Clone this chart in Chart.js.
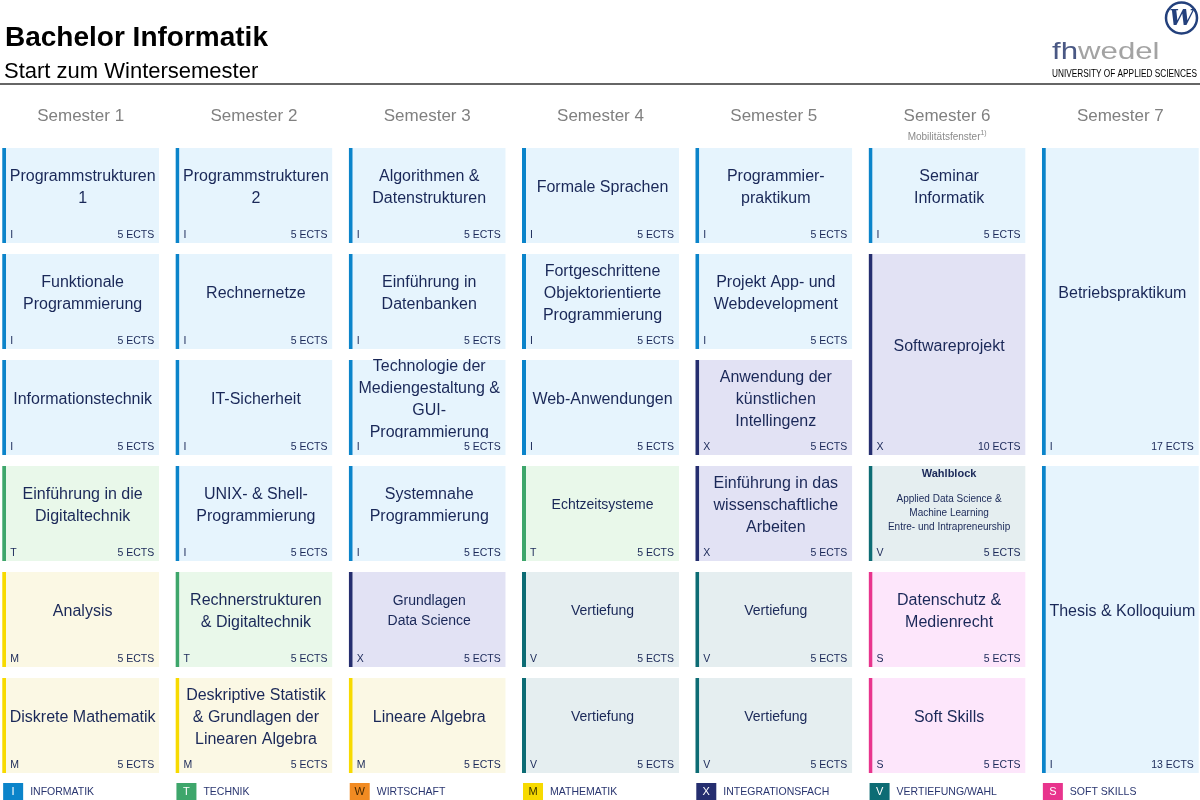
<!DOCTYPE html>
<html>
<head>
<meta charset="utf-8">
<script src="https://cdn.jsdelivr.net/npm/chart.js@4.4.1/dist/chart.umd.min.js"></script>
<style>
html,body{margin:0;padding:0;background:#fff;overflow:hidden;width:1200px;height:800px;}
#wrap{position:absolute;left:-6px;top:0;width:1213px;height:800px;}
</style>
</head>
<body>
<div id="wrap"><canvas id="c"></canvas></div>
<script>
// ---------- DATA ----------
const semesters = ['Semester 1','Semester 2','Semester 3','Semester 4','Semester 5','Semester 6','Semester 7'];
const semesterNotes = ['','','','','','Mobilitätsfenster',''];
const semesterNoteMarks = ['','','','','','1)',''];

const moduleTitles = [
  'Programmstrukturen\n1','Funktionale\nProgrammierung','Informationstechnik','Einführung in die\nDigitaltechnik','Analysis','Diskrete Mathematik',
  'Programmstrukturen\n2','Rechnernetze','IT-Sicherheit','UNIX- & Shell-\nProgrammierung','Rechnerstrukturen\n& Digitaltechnik','Deskriptive Statistik\n& Grundlagen der\nLinearen Algebra',
  'Algorithmen &\nDatenstrukturen','Einführung in\nDatenbanken','Technologie der\nMediengestaltung &\nGUI-\nProgrammierung','Systemnahe\nProgrammierung','Grundlagen\nData Science','Lineare Algebra',
  'Formale Sprachen','Fortgeschrittene\nObjektorientierte\nProgrammierung','Web-Anwendungen','Echtzeitsysteme','Vertiefung','Vertiefung',
  'Programmier-\npraktikum','Projekt App- und\nWebdevelopment','Anwendung der\nkünstlichen\nIntellingenz','Einführung in das\nwissenschaftliche\nArbeiten','Vertiefung','Vertiefung',
  'Seminar\nInformatik','Softwareprojekt','Wahlblock','Datenschutz &\nMedienrecht','Soft Skills',
  'Betriebspraktikum','Thesis & Kolloquium'
];
const moduleSemester = [
  0,0,0,0,0,0,
  1,1,1,1,1,1,
  2,2,2,2,2,2,
  3,3,3,3,3,3,
  4,4,4,4,4,4,
  5,5,5,5,5,
  6,6
];
const moduleRow = [
  0,1,2,3,4,5,
  0,1,2,3,4,5,
  0,1,2,3,4,5,
  0,1,2,3,4,5,
  0,1,2,3,4,5,
  0,1,3,4,5,
  0,3
];
const moduleRowSpan = [
  1,1,1,1,1,1,
  1,1,1,1,1,1,
  1,1,1,1,1,1,
  1,1,1,1,1,1,
  1,1,1,1,1,1,
  1,2,1,1,1,
  3,3
];
const moduleCategory = [
  'I','I','I','T','M','M',
  'I','I','I','I','T','M',
  'I','I','I','I','X','M',
  'I','I','I','T','V','V',
  'I','I','X','X','V','V',
  'I','X','V','S','S',
  'I','I'
];
const moduleEcts = [
  5,5,5,5,5,5,
  5,5,5,5,5,5,
  5,5,5,5,5,5,
  5,5,5,5,5,5,
  5,5,5,5,5,5,
  5,10,5,5,5,
  17,13
];
const wahlblockOptions = ['Applied Data Science &','Machine Learning','Entre- und Intrapreneurship'];

const categoryCodes = ['I','T','W','M','X','V','S'];
const categoryNames = ['INFORMATIK','TECHNIK','WIRTSCHAFT','MATHEMATIK','INTEGRATIONSFACH','VERTIEFUNG/WAHL','SOFT SKILLS'];

const chartTitle = 'Bachelor Informatik';
const chartSubtitle = 'Start zum Wintersemester';
const logoParts = ['fh','wedel'];
const logoTagline = 'UNIVERSITY OF APPLIED SCIENCES';

// ---------- STYLE ----------
const FONT = '"Liberation Sans", Arial, sans-serif';
const TEXT = '#1a2858';
const PAGE_SHIFT = 6; // canvas is shifted 6px left of the page
const strongColor = {I:'#0b84ca',T:'#3ea66b',W:'#f28b22',M:'#f7da00',X:'#252e6f',V:'#0d6c74',S:'#e8348d'};
const lightColor  = {I:'#e6f4fd',T:'#e9f8ea',W:'#fdf0e3',M:'#fbf8e4',X:'#e2e2f4',V:'#e5eef0',S:'#fde6fb'};
const legendTextColor = {I:'#ffffff',T:'#ffffff',W:'#4a2a00',M:'#3a3300',X:'#ffffff',V:'#ffffff',S:'#ffffff'};
const smallTitles = ['Echtzeitsysteme','Grundlagen\nData Science','Vertiefung'];
const ROW_GAP = 11/106;

// ---------- PLUGINS ----------
const cellText = {
  id:'cellText',
  afterDatasetsDraw(chart){
    const ctx = chart.ctx;
    const meta = chart.getDatasetMeta(0);
    meta.data.forEach((el,i)=>{
      const p = el.getProps(['x','y','base','width'], true);
      const left = p.x - p.width/2, right = p.x + p.width/2;
      const top = Math.min(p.y,p.base), bottom = Math.max(p.y,p.base);
      const cx = (left + 4 + right)/2;
      const title = moduleTitles[i];
      ctx.save();
      ctx.fillStyle = TEXT;
      ctx.textAlign = 'center';
      ctx.textBaseline = 'middle';
      if (title === 'Wahlblock') {
        ctx.font = 'bold 11px ' + FONT;
        ctx.fillText(title, cx, top + 8);
        ctx.font = '10px ' + FONT;
        wahlblockOptions.forEach((t,k)=> ctx.fillText(t, cx, top + 33 + k*14));
      } else {
        const small = smallTitles.includes(title);
        const fs = small ? 14 : 16, lh = small ? 20 : 22;
        const lines = title.split('\n');
        const cy = (top + bottom)/2 - 8;
        const y0 = cy - (lines.length - 1) * lh / 2;
        ctx.save();
        ctx.beginPath();
        ctx.rect(left, 0, right - left, bottom - 17);
        ctx.clip();
        ctx.font = fs + 'px ' + FONT;
        lines.forEach((t,k)=> ctx.fillText(t, cx, y0 + k*lh));
        ctx.restore();
      }
      ctx.font = '10.5px ' + FONT;
      ctx.textAlign = 'left';
      ctx.fillText(moduleCategory[i], left + 8, bottom - 8);
      ctx.textAlign = 'right';
      ctx.fillText(moduleEcts[i] + ' ECTS', right - 5, bottom - 8);
      ctx.restore();
    });
  }
};

const decorations = {
  id:'decorations',
  afterDraw(chart){
    const ctx = chart.ctx;
    const xs = chart.scales.x;
    const meta = chart.getDatasetMeta(0);
    const barW = meta.data[0].width;
    ctx.save();
    ctx.save();
    ctx.translate(PAGE_SHIFT, 0);
    // title & subtitle
    ctx.fillStyle = '#000';
    ctx.textAlign = 'left';
    ctx.textBaseline = 'alphabetic';
    ctx.font = 'bold 28px ' + FONT;
    ctx.fillText(chartTitle, 5, 46);
    ctx.font = '22px ' + FONT;
    ctx.fillText(chartSubtitle, 4, 78);
    // rule
    ctx.strokeStyle = '#333';
    ctx.lineWidth = 1.5;
    ctx.beginPath(); ctx.moveTo(0, 84); ctx.lineTo(1200, 84); ctx.stroke();
    // logo
    ctx.save();
    ctx.translate(1052, 59);
    ctx.scale(1.3, 1);
    ctx.font = '24px ' + FONT;
    ctx.fillStyle = '#4a5884';
    ctx.fillText(logoParts[0], 0, 0);
    const w0 = ctx.measureText(logoParts[0]).width;
    ctx.fillStyle = '#a3a3a3';
    ctx.fillText(logoParts[1], w0, 0);
    ctx.restore();
    ctx.fillStyle = '#000';
    ctx.font = '10px ' + FONT;
    ctx.fillText(logoTagline, 1052, 77, 145);
    ctx.strokeStyle = '#23407c';
    ctx.lineWidth = 2.5;
    ctx.beginPath(); ctx.arc(1181.5, 18, 15.5, 0, Math.PI*2); ctx.stroke();
    ctx.fillStyle = '#23407c';
    ctx.textAlign = 'center';
    ctx.textBaseline = 'middle';
    ctx.font = 'bold italic 22px "DejaVu Serif", serif';
    ctx.fillText('W', 1181.5, 19);
    ctx.restore();
    // semester notes
    semesterNotes.forEach((n,k)=>{
      if (!n) return;
      const cx = xs.getPixelForValue(k);
      ctx.fillStyle = '#8a8a8a';
      ctx.font = '10px ' + FONT;
      ctx.textAlign = 'center';
      ctx.textBaseline = 'middle';
      const w = ctx.measureText(n).width;
      ctx.fillText(n, cx - 3, 137);
      ctx.font = '7px ' + FONT;
      ctx.textAlign = 'left';
      ctx.fillText(semesterNoteMarks[k], cx - 3 + w/2, 133);
    });
    // legend
    categoryCodes.forEach((c,k)=>{
      const left = xs.getPixelForValue(k) - barW/2;
      ctx.fillStyle = strongColor[c];
      ctx.fillRect(left + 1, 783, 20, 17);
      ctx.fillStyle = legendTextColor[c];
      ctx.font = '11px ' + FONT;
      ctx.textAlign = 'center';
      ctx.textBaseline = 'middle';
      ctx.fillText(c, left + 11, 792);
      ctx.fillStyle = '#2a3670';
      ctx.font = '10.5px ' + FONT;
      ctx.textAlign = 'left';
      ctx.fillText(categoryNames[k], left + 28, 792);
    });
    ctx.restore();
  }
};

// ---------- CHART ----------
new Chart(document.getElementById('c'), {
  type:'bar',
  data:{
    labels: semesters,
    datasets:[{
      data: moduleTitles.map((t,i)=>({
        x: semesters[moduleSemester[i]],
        y: [moduleRow[i] + ROW_GAP, moduleRow[i] + moduleRowSpan[i]]
      })),
      backgroundColor: ctx => lightColor[moduleCategory[ctx.dataIndex]],
      borderColor: ctx => strongColor[moduleCategory[ctx.dataIndex]],
      borderWidth: {left:4, top:0, right:0, bottom:0},
      borderSkipped: false,
      inflateAmount: 0,
      categoryPercentage: 157/173.3,
      barPercentage: 1
    }]
  },
  options:{
    responsive:true,
    maintainAspectRatio:false,
    animation:false,
    devicePixelRatio:1,
    layout:{padding:{left:0, right:0, top:87, bottom:27}},
    plugins:{legend:{display:false}, tooltip:{enabled:false}, title:{display:false}},
    scales:{
      x:{
        position:'top',
        grid:{display:false, drawTicks:false},
        border:{display:false},
        ticks:{color:'#808080', font:{family:FONT, size:17}, padding:10},
        afterFit(scale){ scale.height = 50; }
      },
      y:{
        display:false,
        reverse:true,
        min:0, max:6
      }
    }
  },
  plugins:[cellText, decorations]
});
</script>
</body>
</html>
